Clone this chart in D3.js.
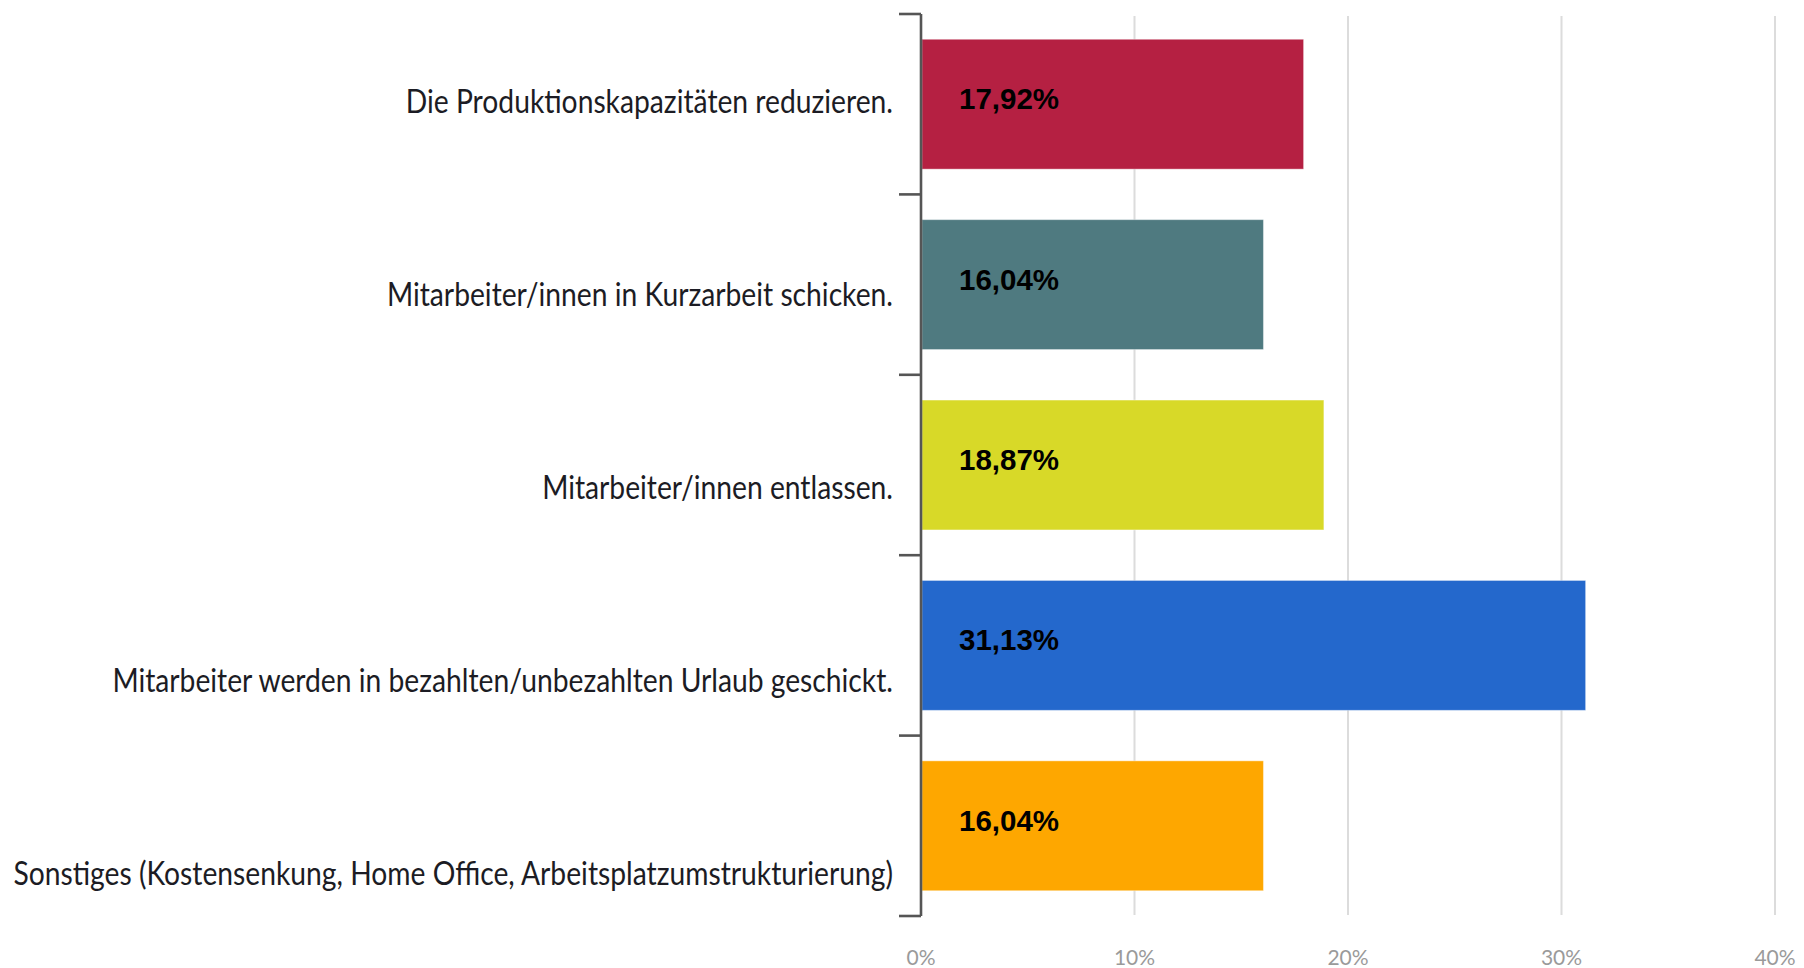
<!DOCTYPE html>
<html>
<head>
<meta charset="utf-8">
<script src="https://cdn.jsdelivr.net/npm/d3@7"></script>
<style>
  body { margin: 0; background: #fff; }
  svg { display: block; }
</style>
</head>
<body>
<div id="chart"></div>
<script>
/* horizontal bar chart: measures against the crisis */

const categories = [
  "Die Produktionskapazitäten reduzieren.",
  "Mitarbeiter/innen in Kurzarbeit schicken.",
  "Mitarbeiter/innen entlassen.",
  "Mitarbeiter werden in bezahlten/unbezahlten Urlaub geschickt.",
  "Sonstiges (Kostensenkung, Home Office, Arbeitsplatzumstrukturierung)"
];
const values = [17.92, 16.04, 18.87, 31.13, 16.04];
const valueLabels = ["17,92%", "16,04%", "18,87%", "31,13%", "16,04%"];
const colors = ["#b52042", "#4f7a80", "#d8d928", "#2468cc", "#fea700"];
const xTicks = [0, 10, 20, 30, 40];

let width = 1804,
    height = 968,
    margin = ({ top: 14, right: 29, bottom: 52, left: 921 });

const svg = d3.select("#chart")
  .append("svg")
  .attr("width", width)
  .attr("height", height);

let x = d3.scaleLinear()
  .domain([0, 40])
  .range([margin.left, width - margin.right]);

let y = d3.scaleBand()
  .domain(categories)
  .range([margin.top, height - margin.bottom])
  .paddingInner(0.28)
  .paddingOuter(0.14);

// the labels sit on their own, slightly wider spacing
let yLabel = d3.scalePoint()
  .domain(categories)
  .range([101, 873]);

// gridlines
svg.append("g")
  .selectAll("line")
  .data(xTicks.slice(1))
  .join("line")
  .attr("x1", d => x(d))
  .attr("x2", d => x(d))
  .attr("y1", margin.top + 2)
  .attr("y2", height - margin.bottom - 1)
  .attr("stroke", "#dcdcdc")
  .attr("stroke-width", 2);

// x tick labels
svg.append("g")
  .selectAll("text")
  .data(xTicks)
  .join("text")
  .attr("x", d => x(d))
  .attr("y", 965)
  .attr("text-anchor", "middle")
  .attr("font-family", "Lato")
  .attr("font-size", 21)
  .attr("fill", "#9a9a9a")
  .text(d => d + "%");

// bars
svg.append("g")
  .selectAll("rect")
  .data(values)
  .join("rect")
  .attr("x", x(0) + 1)
  .attr("y", (d, i) => y(categories[i]))
  .attr("width", d => x(d) - x(0) - 1)
  .attr("height", y.bandwidth())
  .attr("fill", (d, i) => colors[i])
  .attr("stroke", "#ffffff")
  .attr("stroke-opacity", 0.4)
  .attr("stroke-width", 1);

// value labels inside the bars
svg.append("g")
  .selectAll("text")
  .data(valueLabels)
  .join("text")
  .attr("x", x(0) + 38)
  .attr("y", (d, i) => y(categories[i]) + y.bandwidth() / 2 + 5)
  .attr("font-family", "Liberation Sans, Arial, sans-serif")
  .attr("font-weight", "bold")
  .attr("font-size", 29.5)
  .attr("fill", "#000")
  .text(d => d);

// y axis line + ticks at band boundaries
let step = y.step(),
    half = step * y.paddingInner() / 2;
let tickYs = categories.map(c => y(c) - half);
tickYs.push(y(categories[categories.length - 1]) + y.bandwidth() + half);

let axis = svg.append("g")
  .attr("stroke", "#555")
  .attr("stroke-width", 2.6);

axis.append("line")
  .attr("x1", x(0))
  .attr("x2", x(0))
  .attr("y1", tickYs[0])
  .attr("y2", tickYs[tickYs.length - 1]);

axis.selectAll(".tick")
  .data(tickYs)
  .join("line")
  .attr("class", "tick")
  .attr("x1", x(0) - 22)
  .attr("x2", x(0))
  .attr("y1", d => d)
  .attr("y2", d => d);

// category labels, squeezed horizontally like the original
let labels = svg.append("g")
  .attr("font-family", "Lato")
  .attr("font-size", 33)
  .attr("fill", "#1c1c24");

let labelTexts = labels.selectAll("text")
  .data(categories)
  .join("text")
  .attr("text-anchor", "end")
  .attr("y", d => yLabel(d) + 12)
  .text(d => d);

let longest = d3.max(labelTexts.nodes(), n => n.getComputedTextLength());
let k = 880 / longest;
labelTexts.attr("transform", `translate(893,0) scale(${k},1)`);
</script>
</body>
</html>
